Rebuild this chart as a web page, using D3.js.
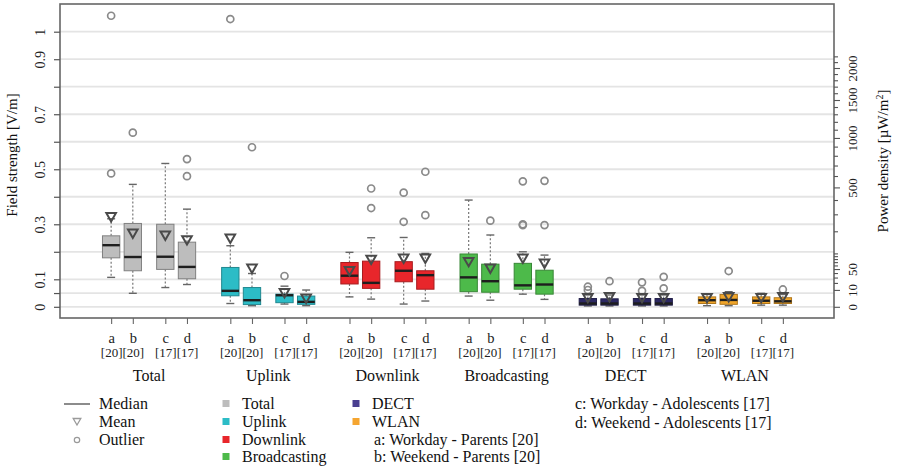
<!DOCTYPE html>
<html>
<head>
<meta charset="utf-8">
<script src="https://cdn.jsdelivr.net/npm/d3@7"></script>
<style>
  html, body { margin: 0; padding: 0; background: #fff; }
  svg { display: block; font-family: "Liberation Serif", "DejaVu Serif", serif; }
</style>
</head>
<body>
<svg id="chart" width="905" height="468"></svg>
<script>
// Field strength exposure by source, four person-day subsets per source
const groups = ["Total", "Uplink", "Downlink", "Broadcasting", "DECT", "WLAN"];
const subsets = ["a", "b", "c", "d"];
const sampleSizes = ["[20]", "[20]", "[17]", "[17]"];
const groupColors = ["#bdbdbd", "#2cbcc6", "#e8262b", "#4dba4a", "#2c2862", "#f2a62a"];
const legendColors = ["#bdbdbd", "#2cbcc6", "#e8262b", "#4dba4a", "#4a3f90", "#f5a530"];

// Box statistics in V/m, one row per source (subsets a, b, c, d)
const whiskerLow = [
  [0.107, 0.049, 0.070, 0.081],
  [0.012, 0.004, 0.010, 0.004],
  [0.036, 0.028, 0.010, 0.021],
  [0.039, 0.024, 0.046, 0.027],
  [0.003, 0.003, 0.003, 0.003],
  [0.004, 0.004, 0.006, 0.006]
];
const q1 = [
  [0.178, 0.131, 0.136, 0.102],
  [0.040, 0.008, 0.015, 0.009],
  [0.083, 0.067, 0.091, 0.064],
  [0.055, 0.053, 0.064, 0.046],
  [0.006, 0.006, 0.006, 0.006],
  [0.012, 0.009, 0.012, 0.012]
];
const median = [
  [0.224, 0.181, 0.182, 0.145],
  [0.058, 0.024, 0.042, 0.018],
  [0.113, 0.087, 0.131, 0.115],
  [0.107, 0.093, 0.078, 0.081],
  [0.012, 0.012, 0.012, 0.012],
  [0.024, 0.025, 0.022, 0.020]
];
const q3 = [
  [0.258, 0.303, 0.300, 0.235],
  [0.143, 0.070, 0.046, 0.039],
  [0.161, 0.166, 0.164, 0.131],
  [0.192, 0.155, 0.158, 0.133],
  [0.030, 0.029, 0.030, 0.030],
  [0.036, 0.045, 0.036, 0.033]
];
const whiskerHigh = [
  [0.320, 0.445, 0.521, 0.355],
  [0.222, 0.121, 0.075, 0.061],
  [0.198, 0.251, 0.252, 0.194],
  [0.388, 0.261, 0.200, 0.188],
  [0.043, 0.043, 0.043, 0.043],
  [0.045, 0.055, 0.049, 0.045]
];
const means = [
  [0.327, 0.267, 0.260, 0.243],
  [0.249, 0.140, 0.051, 0.031],
  [0.131, 0.172, 0.176, 0.176],
  [0.164, 0.140, 0.176, 0.158],
  [0.033, 0.036, 0.033, 0.033],
  [0.033, 0.036, 0.033, 0.036]
];
const outliers = [
  [[0.485, 1.058], [0.633], [], [0.537, 0.475]],
  [[1.046], [0.580], [0.112], []],
  [[], [0.430, 0.359], [0.415, 0.309], [0.491, 0.333]],
  [[], [0.313], [0.456, 0.300, 0.297], [0.458, 0.297]],
  [[0.073, 0.061], [0.093], [0.089, 0.058], [0.109, 0.067]],
  [[], [0.130], [], [0.063]]
];

// Axis ticks
const fieldTicks = [0, 0.05, 0.1, 0.2, 0.3, 0.4, 0.5, 0.6, 0.7, 0.8, 0.9, 1];
const fieldLabels = [0, 0.1, 0.3, 0.5, 0.7, 0.9, 1];
const powerTicks = [0, 10, 20, 30, 40, 50, 60, 70, 80, 90, 100, 200, 300, 400, 500, 600, 700, 800, 900,
  1000, 1100, 1200, 1300, 1400, 1500, 1600, 1700, 1800, 1900, 2000, 2100, 2200];
const powerLabels = [0, 10, 50, 500, 1000, 1500, 2000];

// Legend texts
const statLegend = ["Median", "Mean", "Outlier"];
const subsetLegend = [
  "a: Workday - Parents [20]",
  "b: Weekend - Parents [20]",
  "c: Workday - Adolescents [17]",
  "d: Weekend - Adolescents [17]"
];

// ---- layout ----
const plot = { left: 60, right: 834, top: 4, bottom: 318 };
const subsetOffsets = [0, 1, 2.5, 3.5];
const groupStep = 5.5;
const Z0 = 376.73; // impedance of free space, ohm

const svg = d3.select("#chart");

const x = d3.scaleLinear().domain([-2.36, 33.36]).range([plot.left, plot.right]);
const y = d3.scaleLinear().domain([-0.0407, 1.1007]).range([plot.bottom, plot.top]);
const eMax = y.domain()[1];
// power density (µW/m²) = E² / Z0 · 1e6, so a square-root scale shares the same pixels
const yPow = d3.scalePow().exponent(0.5)
  .domain([0, eMax * eMax / Z0 * 1e6])
  .range([y(0), y(eMax)]);

const pos = (g, s) => g * groupStep + subsetOffsets[s];
const boxW = x(0.8) - x(0);

// Grid lines
svg.append("g").selectAll("line").data(fieldTicks).join("line")
  .attr("x1", plot.left).attr("x2", plot.right)
  .attr("y1", d => y(d)).attr("y2", d => y(d))
  .attr("stroke", "#e4e4e4").attr("stroke-width", 1.8);

// Boxes
const cells = [];
groups.forEach((gName, g) => subsets.forEach((sName, s) => cells.push({ g, s })));

const boxG = svg.append("g");
cells.forEach(({ g, s }) => {
  const cx = x(pos(g, s));
  const fill = groupColors[g];
  const stroke = d3.color(fill).darker(g === 0 ? 1.1 : 0.9).formatHex();
  const grp = boxG.append("g");
  // whiskers
  grp.append("line")
    .attr("x1", cx).attr("x2", cx)
    .attr("y1", y(q3[g][s])).attr("y2", y(whiskerHigh[g][s]))
    .attr("stroke", "#777").attr("stroke-width", 1.2).attr("stroke-dasharray", "2,2");
  grp.append("line")
    .attr("x1", cx).attr("x2", cx)
    .attr("y1", y(q1[g][s])).attr("y2", y(whiskerLow[g][s]))
    .attr("stroke", "#777").attr("stroke-width", 1.2).attr("stroke-dasharray", "2,2");
  [whiskerHigh[g][s], whiskerLow[g][s]].forEach(v => {
    grp.append("line")
      .attr("x1", cx - boxW * 0.23).attr("x2", cx + boxW * 0.23)
      .attr("y1", y(v)).attr("y2", y(v))
      .attr("stroke", "#666").attr("stroke-width", 1.4);
  });
  // box
  grp.append("rect")
    .attr("x", cx - boxW / 2).attr("width", boxW)
    .attr("y", y(q3[g][s])).attr("height", y(q1[g][s]) - y(q3[g][s]))
    .attr("fill", fill).attr("stroke", stroke).attr("stroke-width", 1);
  // median
  grp.append("line")
    .attr("x1", cx - boxW / 2).attr("x2", cx + boxW / 2)
    .attr("y1", y(median[g][s])).attr("y2", y(median[g][s]))
    .attr("stroke", "#1e1e1e").attr("stroke-width", 2.4);
  // outliers
  grp.selectAll("circle").data(outliers[g][s]).join("circle")
    .attr("cx", cx).attr("cy", d => y(d)).attr("r", 3.5)
    .attr("fill", "none").attr("stroke", "#8a8a8a").attr("stroke-width", 1.7);
  // mean
  const m = y(means[g][s]);
  grp.append("path")
    .attr("d", `M${cx - 4.8},${m - 3.8}L${cx + 4.8},${m - 3.8}L${cx},${m + 4.6}Z`)
    .attr("fill", "none").attr("stroke", "#4a4a4a").attr("stroke-width", 2)
    .attr("stroke-linejoin", "miter");
});

// Plot frame
svg.append("rect")
  .attr("x", plot.left).attr("y", plot.top)
  .attr("width", plot.right - plot.left).attr("height", plot.bottom - plot.top)
  .attr("fill", "none").attr("stroke", "#666").attr("stroke-width", 1.6);

// Left axis (field strength)
const leftAxis = svg.append("g").attr("transform", `translate(${plot.left},0)`)
  .call(d3.axisLeft(y).tickValues(fieldTicks).tickSize(6)
    .tickFormat(d => fieldLabels.includes(d) ? d3.format("~g")(d) : ""));
leftAxis.select(".domain").remove();
leftAxis.selectAll(".tick line").attr("stroke", "#555").attr("stroke-width", 1.2);
leftAxis.selectAll(".tick text")
  .attr("transform", "rotate(-90)")
  .attr("x", 0).attr("y", -15).attr("dy", 0)
  .attr("text-anchor", "middle")
  .attr("font-family", "Liberation Serif").attr("font-size", 14).attr("fill", "#222");

// Right axis (power density)
const rightAxis = svg.append("g").attr("transform", `translate(${plot.right},0)`)
  .call(d3.axisRight(yPow).tickValues(powerTicks)
    .tickFormat(d => powerLabels.includes(d) ? String(d) : ""));
rightAxis.select(".domain").remove();
rightAxis.selectAll(".tick line")
  .attr("x2", d => powerLabels.includes(d) ? 6 : 4)
  .attr("stroke", "#555").attr("stroke-width", 1.1);
rightAxis.selectAll(".tick text")
  .attr("transform", "rotate(-90)")
  .attr("x", 0).attr("y", 23).attr("dy", 0)
  .attr("text-anchor", "middle")
  .attr("font-family", "Liberation Serif").attr("font-size", 13).attr("fill", "#222");

// Bottom axis: one tick per box
const tickPositions = cells.map(({ g, s }) => pos(g, s));
const bottomAxis = svg.append("g").attr("transform", `translate(0,${plot.bottom})`)
  .call(d3.axisBottom(x).tickValues(tickPositions).tickSize(6)
    .tickFormat((d, i) => subsets[i % 4]));
bottomAxis.select(".domain").remove();
bottomAxis.selectAll(".tick line").attr("stroke", "#666").attr("stroke-width", 1.1);
bottomAxis.selectAll(".tick text")
  .attr("y", 25).attr("dy", 0)
  .attr("font-family", "Liberation Serif").attr("font-size", 14.5).attr("fill", "#222");
bottomAxis.selectAll(".tick").append("text")
  .attr("y", 39).attr("text-anchor", "middle").attr("fill", "#222")
  .attr("font-family", "Liberation Serif").attr("font-size", 13)
  .text((d, i) => sampleSizes[i % 4]);

// Group names
svg.append("g").selectAll("text").data(groups).join("text")
  .attr("x", (d, g) => x(g * groupStep + (subsetOffsets[0] + subsetOffsets[3]) / 2))
  .attr("y", 381).attr("text-anchor", "middle")
  .attr("font-size", 16).attr("fill", "#111")
  .text(d => d);

// Axis titles
svg.append("text")
  .attr("transform", `translate(17,${(plot.top + plot.bottom) / 2 - 6}) rotate(-90)`)
  .attr("text-anchor", "middle").attr("font-size", 15).attr("fill", "#111")
  .text("Field strength [V/m]");
const powTitle = svg.append("text")
  .attr("transform", `translate(888,${(plot.top + plot.bottom) / 2}) rotate(-90)`)
  .attr("text-anchor", "middle").attr("font-size", 15).attr("fill", "#111");
powTitle.append("tspan").text("Power density [µW/m");
powTitle.append("tspan").attr("dy", -5).attr("font-size", 10).text("2");
powTitle.append("tspan").attr("dy", 5).text("]");

// Legend
const rowY = [409, 427, 445, 462];
const leg = svg.append("g").attr("font-size", 16).attr("fill", "#111");

// statistics symbols
leg.append("line").attr("x1", 64).attr("x2", 90).attr("y1", rowY[0] - 5).attr("y2", rowY[0] - 5)
  .attr("stroke", "#8c8c8c").attr("stroke-width", 2);
leg.append("path")
  .attr("d", `M${77 - 3.8},${rowY[1] - 8.5}L${77 + 3.8},${rowY[1] - 8.5}L77,${rowY[1] - 2}Z`)
  .attr("fill", "none").attr("stroke", "#9a9a9a").attr("stroke-width", 1.3);
leg.append("circle").attr("cx", 77).attr("cy", rowY[2] - 5).attr("r", 2.7)
  .attr("fill", "none").attr("stroke", "#9a9a9a").attr("stroke-width", 1.2);
leg.selectAll("text.stat").data(statLegend).join("text").attr("class", "stat")
  .attr("x", 99).attr("y", (d, i) => rowY[i]).text(d => d);

// source colours
const srcCols = [[0, 1, 2, 3], [4, 5]];
const srcX = [226, 356];
srcCols.forEach((col, c) => {
  col.forEach((g, r) => {
    leg.append("rect").attr("x", srcX[c] - 3.5).attr("y", rowY[r] - 9).attr("width", 7).attr("height", 7)
      .attr("fill", legendColors[g]);
    leg.append("text").attr("x", srcX[c] + 16).attr("y", rowY[r]).text(groups[g]);
  });
});

// subset descriptions
leg.append("text").attr("x", 374).attr("y", rowY[2]).text(subsetLegend[0]);
leg.append("text").attr("x", 374).attr("y", rowY[3]).text(subsetLegend[1]);
leg.append("text").attr("x", 575).attr("y", rowY[0]).text(subsetLegend[2]);
leg.append("text").attr("x", 575).attr("y", rowY[1] + 1).text(subsetLegend[3]);
</script>
</body>
</html>
